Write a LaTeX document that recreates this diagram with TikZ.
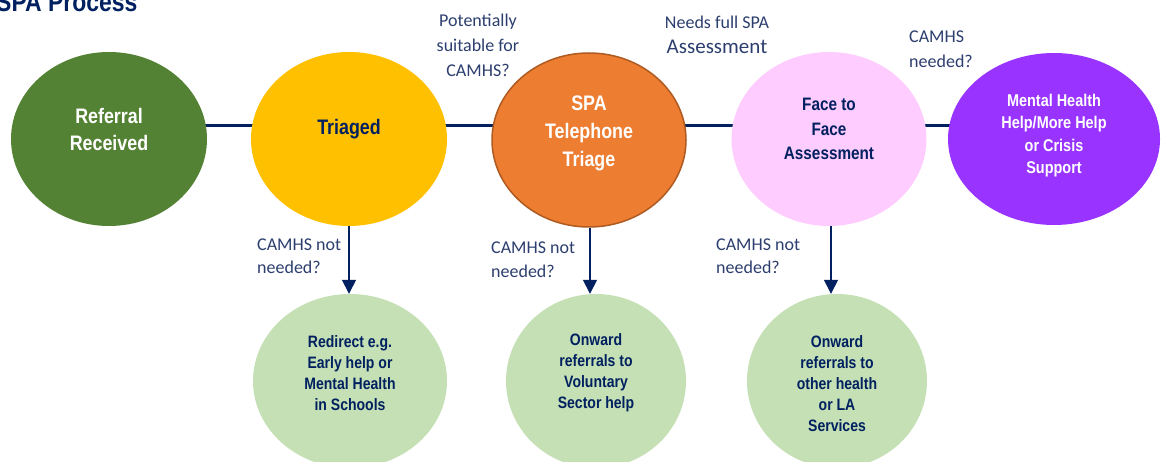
\documentclass[tikz,border=0pt]{standalone}
\usepackage{fontspec}
\setmainfont{Carlito}
\newfontfamily\nb[FakeStretch=0.85,BoldFont={* Bold}]{Liberation Sans}
\usetikzlibrary{shapes.geometric,arrows.meta,calc,backgrounds}
\definecolor{navy}{HTML}{002060}
\definecolor{lblc}{HTML}{2C3E6E}
\definecolor{cgreen}{HTML}{548235}
\definecolor{cyellow}{HTML}{FFC000}
\definecolor{corange}{HTML}{ED7D31}
\definecolor{corangeb}{HTML}{AE5A21}
\definecolor{cpink}{HTML}{FFCCFF}
\definecolor{cpurple}{HTML}{9933FF}
\definecolor{clight}{HTML}{C5E0B4}
\tikzset{
  oval/.style={ellipse, inner sep=0pt, draw=none},
  conn/.style={draw=navy, line width=3pt},
  darrow/.style={draw=navy, line width=1.5pt, -{Triangle[width=14pt,length=14pt]}},
  lbl/.style={text=lblc, inner sep=0pt, font=\fontsize{18}{25}\selectfont},
  big/.style={inner sep=0pt, align=center, font=\nb\bfseries\fontsize{21}{27}\selectfont},
}
\begin{document}
\begin{tikzpicture}[x=1pt,y=-1pt]
\useasboundingbox (0,0) rectangle (1161,462);
% title
\node[anchor=base west, inner sep=0pt, text=navy, font=\nb\bfseries\fontsize{27}{32}\selectfont] (title) at (-4,12) {SPA Process};
% top ellipses
\node[oval, fill=cgreen, minimum width=196pt, minimum height=174pt] (e1) at (109,139) {};
\node[oval, fill=cyellow, minimum width=196pt, minimum height=174pt] (e2) at (349,139) {};
\node[oval, fill=corange, draw=corangeb, line width=1.5pt, minimum width=194pt, minimum height=174pt] (e3) at (589,140) {};
\node[oval, fill=cpink, minimum width=195pt, minimum height=174pt] (e4) at (829,139) {};
\node[oval, fill=cpurple, minimum width=212pt, minimum height=172pt] (e5) at (1054,139) {};
% bottom ellipses
\node[oval, fill=clight, minimum width=194pt, minimum height=174pt] (b1) at (350,381) {};
\node[oval, fill=clight, minimum width=180pt, minimum height=174pt] (b2) at (596,381) {};
\node[oval, fill=clight, minimum width=180pt, minimum height=174pt] (b3) at (837,381) {};
% connectors behind
\begin{scope}[on background layer]
\draw[conn] ($(e1.center)+(0,-13)$) -- ($(e2.center)+(0,-13)$);
\draw[conn] ($(e2.center)+(0,-13)$) -- ($(e3.center)+(0,-14)$);
\draw[conn] ($(e3.center)+(0,-14)$) -- ($(e4.center)+(0,-13)$);
\draw[conn] ($(e4.center)+(0,-13)$) -- ($(e5.center)+(0,-13)$);
\end{scope}
% down arrows
\draw[darrow] (e2.south) -- (e2.south |- b1.north);
\draw[darrow] ($(e3.south)+(1,0)$) -- ($(e3.south |- b2.north)+(1,0)$);
\draw[darrow] ($(e4.south)+(2,0)$) -- ($(e4.south |- b3.north)+(2,0)$);
% texts in ellipses
\node[big, text=white] (t1) at (109,129.5) {Referral\\Received};
\node[big, text=navy] (t2) at (349,129) {Triaged};
\node[big, text=white, font=\nb\bfseries\fontsize{21}{28}\selectfont] (t3) at (589,133) {SPA\\Telephone\\Triage};
\node[big, text=navy, font=\nb\bfseries\fontsize{18}{24.5}\selectfont] (t4) at (829,129) {Face to\\Face\\Assessment};
\node[big, text=white, font=\nb\bfseries\fontsize{17}{22.5}\selectfont] (t5) at (1054,135.5) {Mental Health\\Help/More Help\\or Crisis\\Support};
\node[big, text=navy, font=\nb\bfseries\fontsize{16.5}{21}\selectfont] (tb1) at (350,373) {Redirect e.g.\\Early help or\\Mental Health\\in Schools};
\node[big, text=navy, font=\nb\bfseries\fontsize{16.5}{21}\selectfont] (tb2) at (596,373) {Onward\\referrals to\\Voluntary\\Sector help};
\node[big, text=navy, font=\nb\bfseries\fontsize{16.5}{21}\selectfont] (tb3) at (837,383.5) {Onward\\referrals to\\other health\\or LA\\Services};
% labels
\node[lbl, align=center] (l1) at (478,45) {Potentially\\suitable for\\CAMHS?};
\node[lbl, align=center] (l2) at (717,35) {Needs full SPA\\{\fontsize{21}{26}\selectfont Assessment}};
\node[lbl, align=left, anchor=west] (l3) at (909,49.5) {CAMHS\\needed?};
\node[lbl, align=left, anchor=west, font=\fontsize{18}{23}\selectfont] (l4) at (257,256.5) {CAMHS not\\needed?};
\node[lbl, align=left, anchor=west, font=\fontsize{18}{24.5}\selectfont] (l5) at (491,259.5) {CAMHS not\\needed?};
\node[lbl, align=left, anchor=west, font=\fontsize{18}{23}\selectfont] (l6) at (716,256.5) {CAMHS not\\needed?};
\end{tikzpicture}
\end{document}
